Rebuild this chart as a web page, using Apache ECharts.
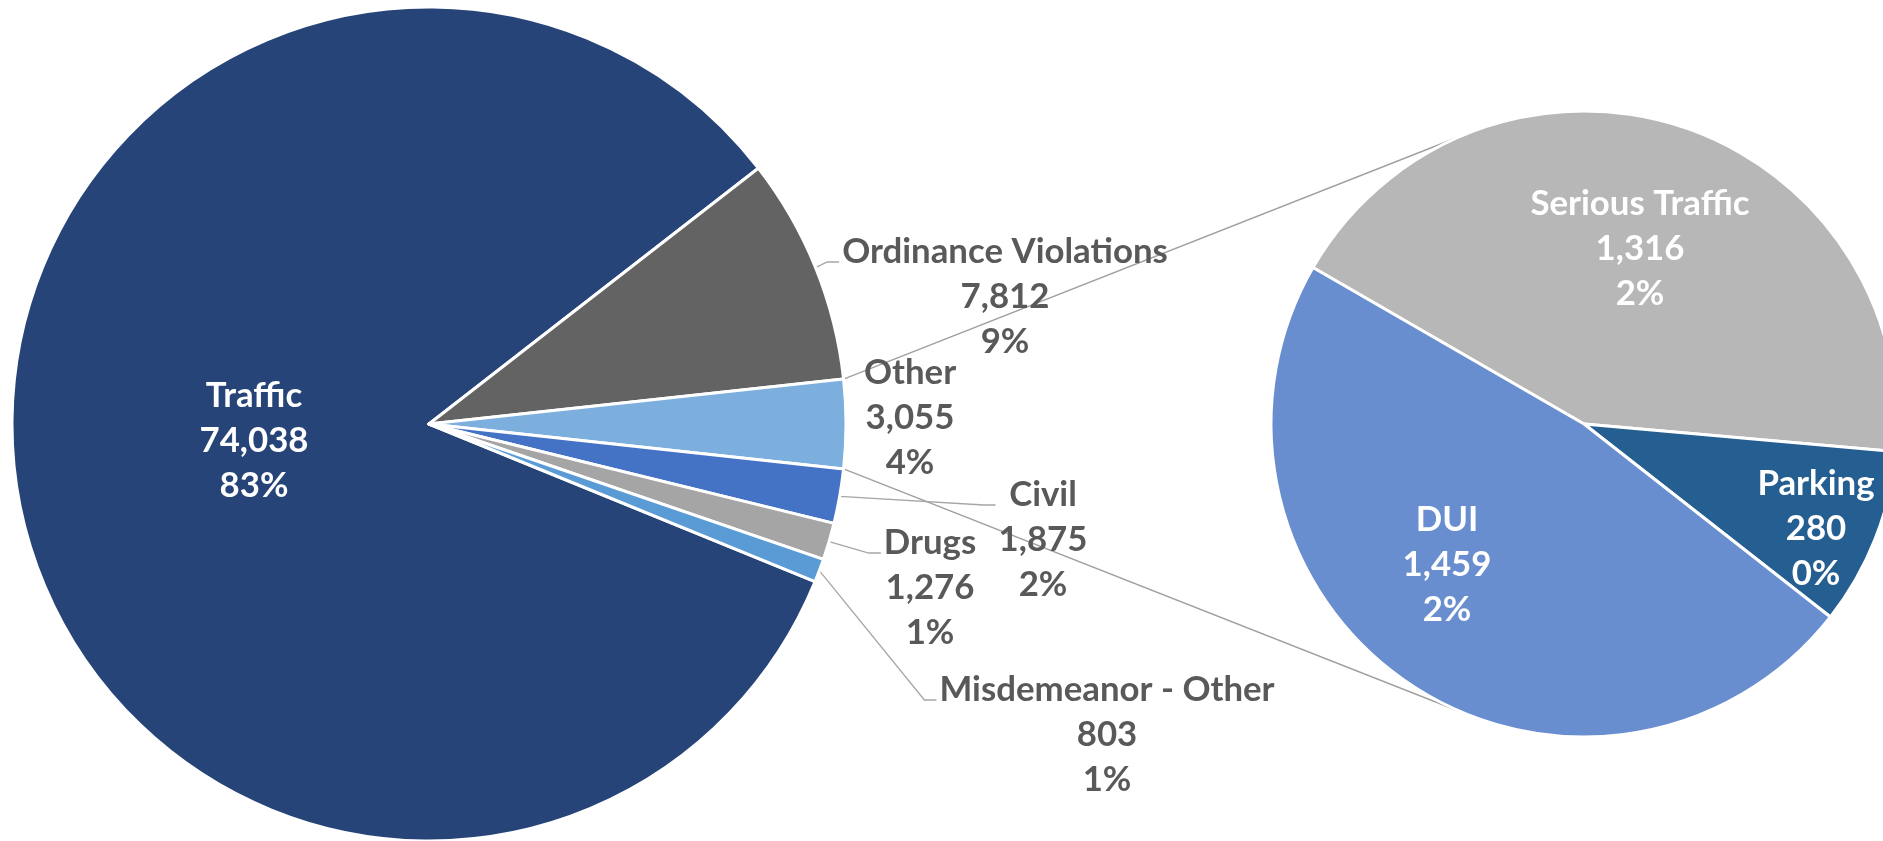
<!DOCTYPE html>
<html><head><meta charset="utf-8">
<script src="https://cdn.jsdelivr.net/npm/echarts@6/dist/echarts.min.js"></script>
<style>html,body{margin:0;padding:0;background:#fff}#c{width:1883px;height:841px}</style>
</head><body><div id="c"></div>
<script>
// ---- data ----
const mainCategories = ['Traffic', 'Ordinance Violations', 'Other', 'Civil', 'Drugs', 'Misdemeanor - Other'];
const mainValues = [74038, 7812, 3055, 1875, 1276, 803];
const mainPercentLabels = ['83%', '9%', '4%', '2%', '1%', '1%'];
const subCategories = ['Serious Traffic', 'Parking', 'DUI'];
const subValues = [1316, 280, 1459];
const subPercentLabels = ['2%', '0%', '2%'];

// ---- layout / style ----
const MC = [429, 424], MR = 417;
const SC = [1584, 424], SR = 313;
const SUB_START = 150;
const FONT = 'Lato';
const LH = 45;
const mainColors = {'Traffic':'#264478','Ordinance Violations':'#636363','Other':'#7CAFDD','Civil':'#4472C4','Drugs':'#A5A5A5','Misdemeanor - Other':'#5B9BD5'};
const subColors = {'Serious Traffic':'#B7B7B7','Parking':'#255E91','DUI':'#698ED0'};
const labelPos = {
  'Traffic': [254, 373.5],
  'Ordinance Violations': [1005, 229.5],
  'Other': [910, 350.5],
  'Civil': [1043, 472.5],
  'Drugs': [930, 520.5],
  'Misdemeanor - Other': [1107, 667.5],
  'Serious Traffic': [1640, 181.5],
  'Parking': [1816, 461.5],
  'DUI': [1447, 497.5]
};
const withLeader = ['Ordinance Violations', 'Civil', 'Drugs', 'Misdemeanor - Other'];
const insideMain = ['Traffic'];

const ctx = document.createElement('canvas').getContext('2d');
ctx.font = 'bold 100px ' + FONT;
const FS = Math.round(100 * 326 / ctx.measureText('Ordinance Violations').width * 10) / 10;

const fmt = v => v.toLocaleString('en-US');
const total = mainValues.reduce((a, b) => a + b, 0);
const otherIdx = mainCategories.indexOf('Other');
let beforeOther = 0;
for (let i = 0; i < otherIdx; i++) beforeOther += mainValues[i];
const startAngle = (beforeOther + mainValues[otherIdx] / 2) / total * 360;

function midAngle(i) {
  let cum = 0;
  for (let k = 0; k < i; k++) cum += mainValues[k];
  return (startAngle - (cum + mainValues[i] / 2) / total * 360) * Math.PI / 180;
}
function edgeAngle(i, end) {
  let cum = 0;
  for (let k = 0; k < i + (end ? 1 : 0); k++) cum += mainValues[k];
  return (startAngle - cum / total * 360) * Math.PI / 180;
}
// tangent point from external point P to sub circle
function tangent(P, sign) {
  const dx = P[0] - SC[0], dy = P[1] - SC[1];
  const d = Math.hypot(dx, dy);
  const phi = Math.atan2(dy, dx);
  const alpha = Math.acos(SR / d);
  const t = phi + sign * alpha;
  return [SC[0] + SR * Math.cos(t), SC[1] + SR * Math.sin(t)];
}
const aTop = edgeAngle(otherIdx, false), aBot = edgeAngle(otherIdx, true);
const pTop = [MC[0] + MR * Math.cos(aTop), MC[1] - MR * Math.sin(aTop)];
const pBot = [MC[0] + MR * Math.cos(aBot), MC[1] - MR * Math.sin(aBot)];
const tTop = tangent(pTop, 1), tBot = tangent(pBot, -1);

const mainData = mainCategories.map((n, i) => {
  const inside = insideMain.includes(n);
  return {
    name: n, value: mainValues[i],
    itemStyle: {color: mainColors[n]},
    label: {position: inside ? 'inside' : 'outside', color: inside ? '#ffffff' : '#595959'},
    labelLine: {show: withLeader.includes(n)}
  };
});
const subData = subCategories.map((n, i) => ({name: n, value: subValues[i], itemStyle: {color: subColors[n]}}));

const labelBase = {fontFamily: FONT, fontWeight: 'bold', fontSize: FS, lineHeight: LH, align: 'center'};

const chart = echarts.init(document.getElementById('c'), null, {renderer: 'canvas'});
chart.setOption({
  backgroundColor: '#ffffff',
  animation: false,
  graphic: [
    {type: 'line', z: 0, shape: {x1: pTop[0], y1: pTop[1], x2: tTop[0], y2: tTop[1]}, style: {stroke: '#A0A0A0', lineWidth: 1.4}},
    {type: 'line', z: 0, shape: {x1: pBot[0], y1: pBot[1], x2: tBot[0], y2: tBot[1]}, style: {stroke: '#A0A0A0', lineWidth: 1.4}}
  ],
  series: [
    {
      type: 'pie', z: 2, center: MC, radius: MR, startAngle: startAngle, clockwise: true,
      avoidLabelOverlap: false,
      itemStyle: {borderColor: '#ffffff', borderWidth: 3},
      label: Object.assign({show: true, formatter: p => p.name + '\n' + fmt(p.value) + '\n' + mainPercentLabels[p.dataIndex]}, labelBase),
      labelLine: {lineStyle: {color: '#A6A6A6', width: 1.3}, length: 10, length2: 10, smooth: false},
      labelLayout: function (p) {
        const name = mainCategories[p.dataIndex];
        const pos = labelPos[name];
        const res = {x: pos[0], y: pos[1], align: 'center', verticalAlign: 'top'};
        if (withLeader.includes(name)) {
          const a = midAngle(p.dataIndex);
          const s = [MC[0] + MR * Math.cos(a), MC[1] - MR * Math.sin(a)];
          const endX = pos[0] - p.labelRect.width / 2 - 3;
          const endY = pos[1] + LH / 2 + 10;
          res.labelLinePoints = [s, [endX - 12, endY], [endX, endY]];
        }
        return res;
      },
      emphasis: {disabled: true},
      data: mainData
    },
    {
      type: 'pie', z: 2, center: SC, radius: SR, startAngle: SUB_START, clockwise: true,
      avoidLabelOverlap: false,
      itemStyle: {borderColor: '#ffffff', borderWidth: 3},
      label: Object.assign({show: true, position: 'inside', color: '#ffffff', formatter: p => p.name + '\n' + fmt(p.value) + '\n' + subPercentLabels[p.dataIndex]}, labelBase),
      labelLine: {show: false},
      labelLayout: function (p) {
        const pos = labelPos[subCategories[p.dataIndex]];
        return {x: pos[0], y: pos[1], align: 'center', verticalAlign: 'top'};
      },
      emphasis: {disabled: true},
      data: subData
    }
  ]
});
</script>
</body></html>
